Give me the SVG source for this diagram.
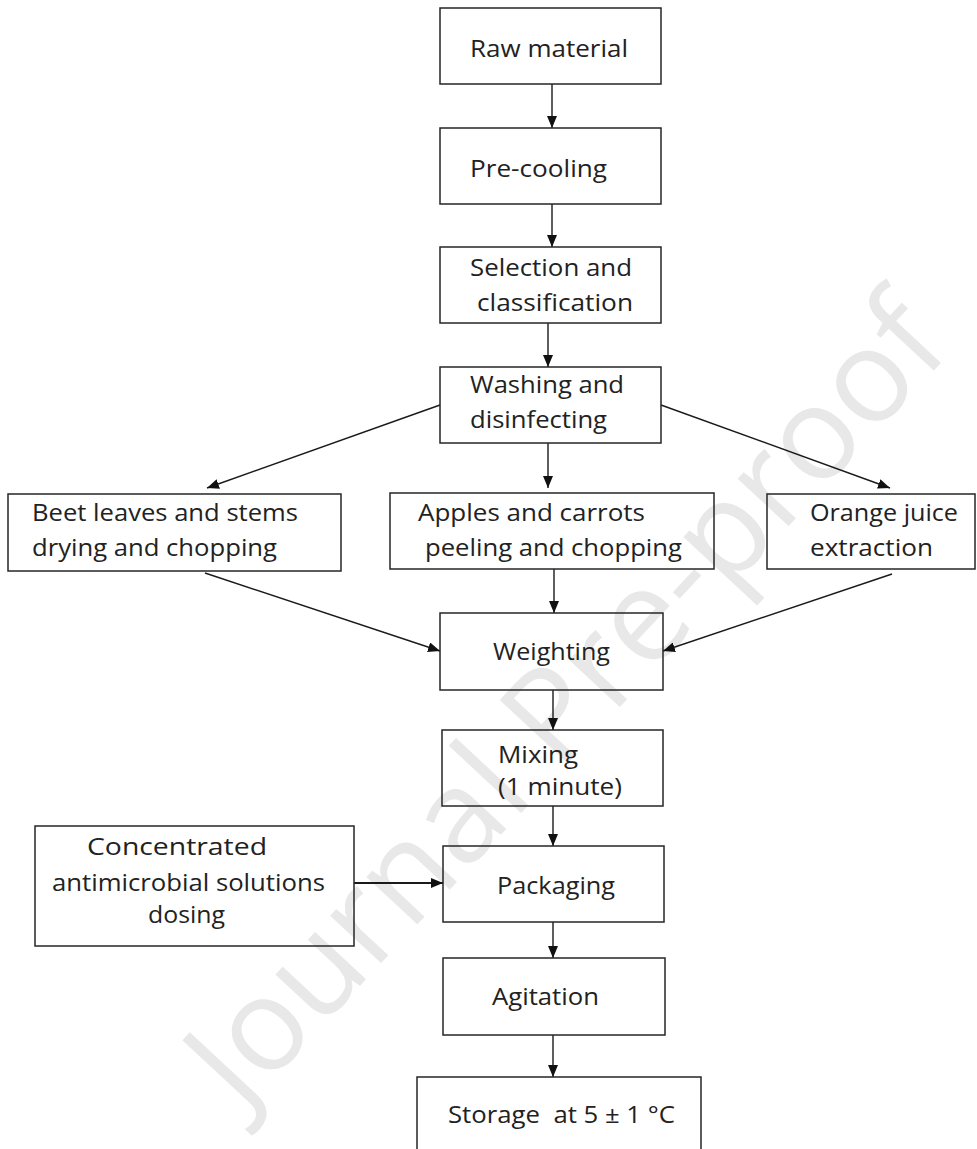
<svg xmlns="http://www.w3.org/2000/svg" width="977" height="1149" viewBox="0 0 977 1149">
<style>
.bg{fill:#ffffff}
.box{fill:none;stroke:#262626;stroke-width:1.5}
.lbl{font-family:"Open Sans","Liberation Sans",sans-serif;font-size:24px;fill:#222222}
.conn line{stroke:#1a1a1a;stroke-width:1.4;fill:none}
.wm{font-family:"Open Sans","Liberation Sans",sans-serif;font-size:130px;fill:#e8e8e8}
</style>
<defs>
<marker id="ah" markerUnits="userSpaceOnUse" markerWidth="12" markerHeight="10" viewBox="0 0 12 10" refX="12" refY="5" orient="auto">
<path d="M0,0 L12,5 L0,10 Z" fill="#111111"/>
</marker>
</defs>
<rect class="bg" x="0" y="0" width="977" height="1149"/>
<g id="watermark">
<text class="wm" x="565" y="745" text-anchor="middle" transform="rotate(-47 565 700)">Journal Pre-proof</text>
</g>
<g class="conn" id="connectors">
<line x1="552" y1="84" x2="552" y2="128" marker-end="url(#ah)"/>
<line x1="552" y1="204" x2="552" y2="247" marker-end="url(#ah)"/>
<line x1="548" y1="323" x2="548" y2="367" marker-end="url(#ah)"/>
<line x1="548" y1="443" x2="548" y2="488" marker-end="url(#ah)"/>
<line x1="440" y1="405" x2="207" y2="488" marker-end="url(#ah)"/>
<line x1="661" y1="405" x2="890" y2="488" marker-end="url(#ah)"/>
<line x1="205" y1="573" x2="440" y2="651" marker-end="url(#ah)"/>
<line x1="554" y1="569" x2="554" y2="613" marker-end="url(#ah)"/>
<line x1="892" y1="574" x2="663" y2="651" marker-end="url(#ah)"/>
<line x1="553" y1="690" x2="553" y2="730" marker-end="url(#ah)"/>
<line x1="553" y1="806" x2="553" y2="846" marker-end="url(#ah)"/>
<line x1="354" y1="883" x2="443" y2="883" marker-end="url(#ah)" style="stroke-width:2"/>
<line x1="553" y1="922" x2="553" y2="958" marker-end="url(#ah)"/>
<line x1="553" y1="1035" x2="553" y2="1077" marker-end="url(#ah)"/>
</g>
<g id="raw">
<rect class="box" x="440" y="8" width="221" height="76"/>
<text class="lbl" x="470" y="57" textLength="158" lengthAdjust="spacingAndGlyphs">Raw material</text>
</g>
<g id="precool">
<rect class="box" x="440" y="128" width="221" height="76"/>
<text class="lbl" x="470" y="177" textLength="137" lengthAdjust="spacingAndGlyphs">Pre-cooling</text>
</g>
<g id="selection">
<rect class="box" x="440" y="247" width="221" height="76"/>
<text class="lbl" x="470" y="276" textLength="162" lengthAdjust="spacingAndGlyphs">Selection and</text>
<text class="lbl" x="477" y="311" textLength="156" lengthAdjust="spacingAndGlyphs">classification</text>
</g>
<g id="washing">
<rect class="box" x="440" y="367" width="221" height="76"/>
<text class="lbl" x="470" y="393" textLength="154" lengthAdjust="spacingAndGlyphs">Washing and</text>
<text class="lbl" x="470" y="428" textLength="137" lengthAdjust="spacingAndGlyphs">disinfecting</text>
</g>
<g id="beet">
<rect class="box" x="8" y="494" width="333" height="77"/>
<text class="lbl" x="32" y="521" textLength="266" lengthAdjust="spacingAndGlyphs">Beet leaves and stems</text>
<text class="lbl" x="32" y="556" textLength="245" lengthAdjust="spacingAndGlyphs">drying and chopping</text>
</g>
<g id="apples">
<rect class="box" x="390" y="493" width="324" height="76"/>
<text class="lbl" x="418" y="521" textLength="227" lengthAdjust="spacingAndGlyphs">Apples and carrots</text>
<text class="lbl" x="425" y="556" textLength="257" lengthAdjust="spacingAndGlyphs">peeling and chopping</text>
</g>
<g id="orange">
<rect class="box" x="767" y="494" width="208" height="75"/>
<text class="lbl" x="810" y="521" textLength="148" lengthAdjust="spacingAndGlyphs">Orange juice</text>
<text class="lbl" x="810" y="556" textLength="123" lengthAdjust="spacingAndGlyphs">extraction</text>
</g>
<g id="weighting">
<rect class="box" x="440" y="613" width="223" height="77"/>
<text class="lbl" x="493" y="660" textLength="117" lengthAdjust="spacingAndGlyphs">Weighting</text>
</g>
<g id="mixing">
<rect class="box" x="442" y="730" width="221" height="76"/>
<text class="lbl" x="498" y="763" textLength="80" lengthAdjust="spacingAndGlyphs">Mixing</text>
<text class="lbl" x="498" y="795" textLength="124" lengthAdjust="spacingAndGlyphs">(1 minute)</text>
</g>
<g id="dosing">
<rect class="box" x="35" y="826" width="319" height="120"/>
<text class="lbl" x="87" y="855" textLength="180" lengthAdjust="spacingAndGlyphs">Concentrated</text>
<text class="lbl" x="52" y="891" textLength="273" lengthAdjust="spacingAndGlyphs">antimicrobial solutions</text>
<text class="lbl" x="148" y="923" textLength="77" lengthAdjust="spacingAndGlyphs">dosing</text>
</g>
<g id="packaging">
<rect class="box" x="443" y="846" width="221" height="76"/>
<text class="lbl" x="497" y="894" textLength="118" lengthAdjust="spacingAndGlyphs">Packaging</text>
</g>
<g id="agitation">
<rect class="box" x="443" y="958" width="222" height="77"/>
<text class="lbl" x="492" y="1005" textLength="107" lengthAdjust="spacingAndGlyphs">Agitation</text>
</g>
<g id="storage">
<rect class="box" x="417" y="1077" width="284" height="90"/>
<text class="lbl" x="448" y="1123" textLength="227" lengthAdjust="spacingAndGlyphs" xml:space="preserve">Storage  at 5 ± 1 °C</text>
</g>
</svg>
